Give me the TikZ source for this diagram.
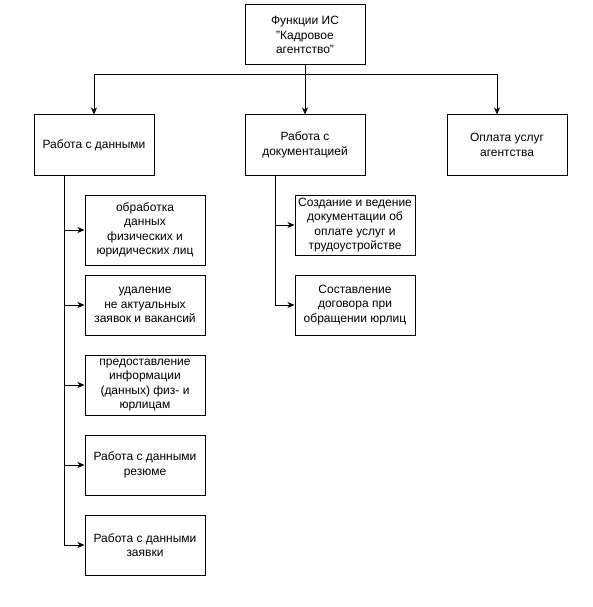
\documentclass[tikz,border=0pt]{standalone}
\usepackage{fontspec}
\setmainfont{Liberation Sans}
\usetikzlibrary{arrows.meta}
\begin{document}
\begin{tikzpicture}[x=1pt,y=-1pt,
  box/.style={draw=black,line width=1pt,fill=white,minimum width=120pt,minimum height=60pt,inner sep=0pt,align=center,font=\fontsize{12pt}{14.4pt}\selectfont},
  conn/.style={draw=black,line width=1pt,-{Stealth[length=7pt,width=6pt,inset=2pt]}}]
\useasboundingbox (0,0) rectangle (592,607);
\node[box] (top) at (305,35) {Функции ИС\\\symbol{34}Кадровое\\агентство\symbol{34}};
\node[box] (L) at (94,145) {Работа с данными};
\node[box] (M) at (305,145) {Работа с\\документацией};
\node[box] (R) at (507,145) {Оплата услуг\\агентства};
\node[box,minimum height=70pt] (L1) at (145,230) {обработка\\данных\\физических и\\юридических лиц};
\node[box] (L2) at (145,305) {удаление\\не актуальных\\заявок и вакансий};
\node[box] (L3) at (145,385) {предоставление\\информации\\(данных) физ- и\\юрлицам};
\node[box] (L4) at (145,465) {Работа с данными\\резюме};
\node[box] (L5) at (145,545) {Работа с данными\\заявки};
\node[box] (M1) at (355,225) {Создание и ведение\\документации об\\оплате услуг и\\трудоустройстве};
\node[box] (M2) at (355,305) {Составление\\договора при\\обращении юрлиц};
\coordinate (hub) at (305,75);
\coordinate (Rin) at ([xshift=-10pt]R.north);
\coordinate (Lout) at ([xshift=-30pt]L.south);
\coordinate (Mout) at ([xshift=-30pt]M.south);
\draw[conn] (top.south) -- (M.north);
\draw[conn] (hub) -| (L.north);
\draw[conn] (hub) -| (Rin);
\foreach \n in {L1,L2,L3,L4,L5} \draw[conn] (Lout) |- (\n.west);
\foreach \n in {M1,M2} \draw[conn] (Mout) |- (\n.west);
\end{tikzpicture}
\end{document}
